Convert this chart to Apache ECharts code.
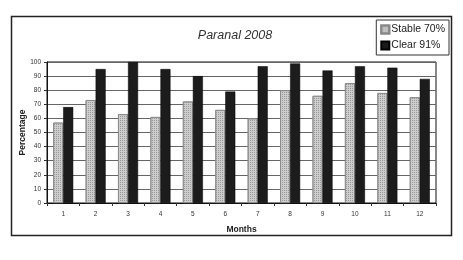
<!DOCTYPE html>
<html><head><meta charset="utf-8">
<script src="https://cdn.jsdelivr.net/npm/echarts@6/dist/echarts.min.js"></script>
<style>html,body{margin:0;padding:0;background:#fff}#c{width:463px;height:260px}</style>
</head><body><div id="c"></div>
<script>
const months = ['1','2','3','4','5','6','7','8','9','10','11','12'];
const stable = [57, 73, 63, 61, 72, 66, 60, 80, 76, 85, 78, 75];
const clear = [68, 95, 100, 95, 90, 79, 97, 99, 94, 97, 96, 88];
const seriesNames = ['Stable 70%', 'Clear 91%'];
const chart = echarts.init(document.getElementById('c'));
const font = 'Liberation Sans, Arial, sans-serif';
chart.setOption({
  animation: false,
  backgroundColor: '#fff',
  graphic: [{type:'rect', shape:{x:11.5,y:16.5,width:440,height:219}, style:{fill:null, stroke:'#222', lineWidth:1.5}, z:-1}],
  title: {text:'Paranal 2008', left:230, top:24, textAlign:'center',
    textStyle:{fontFamily:font, fontStyle:'italic', fontWeight:'normal', fontSize:12.5, color:'#333'}},
  legend: {orient:'vertical', right:14, top:20, itemWidth:8, itemHeight:8, itemGap:5,
    borderColor:'#333', borderWidth:1, padding:[4,4,4,4],
    textStyle:{fontFamily:font, fontSize:10.5, color:'#222', padding:[0,0,0,-3]},
    data:[{name:seriesNames[0], icon:'rect'},{name:seriesNames[1], icon:'rect'}]},
  grid: {left:47, right:27, top:62, bottom:57, show:true, borderColor:'#111', borderWidth:1},
  xAxis: {type:'category', data:months, name:'Months', nameLocation:'middle', nameGap:22,
    nameMoveOverlap:false,
    nameTextStyle:{fontFamily:font, fontSize:8.5, fontWeight:'bold', color:'#222'},
    axisLine:{lineStyle:{color:'#111', width:1}},
    axisTick:{show:true, length:3, lineStyle:{color:'#333'}},
    axisLabel:{fontFamily:font, fontSize:6.5, color:'#333', margin:8}},
  yAxis: {type:'value', min:0, max:100, interval:10, name:'Percentage', nameLocation:'middle', nameGap:20,
    nameMoveOverlap:false,
    nameTextStyle:{fontFamily:font, fontSize:8.5, fontWeight:'bold', color:'#222'},
    axisLine:{show:true, lineStyle:{color:'#111', width:1}},
    axisTick:{show:true, length:3, lineStyle:{color:'#333'}},
    axisLabel:{fontFamily:font, fontSize:6.5, color:'#333', margin:6},
    splitLine:{lineStyle:{color:'#666', width:1}}},
  series: [
    {name:seriesNames[0], type:'bar', data:stable, barWidth:10, barGap:'0%',
      itemStyle:{color:'#cdcdcd', borderColor:'#888', borderWidth:0.8,
        decal:{symbol:'rect', symbolSize:1, dashArrayX:[1,1], dashArrayY:[1,1], color:'#999'}}},
    {name:seriesNames[1], type:'bar', data:clear, barWidth:10,
      itemStyle:{color:'#1c1c1c', borderColor:'#000', borderWidth:0.5}}
  ]
});
</script></body></html>
